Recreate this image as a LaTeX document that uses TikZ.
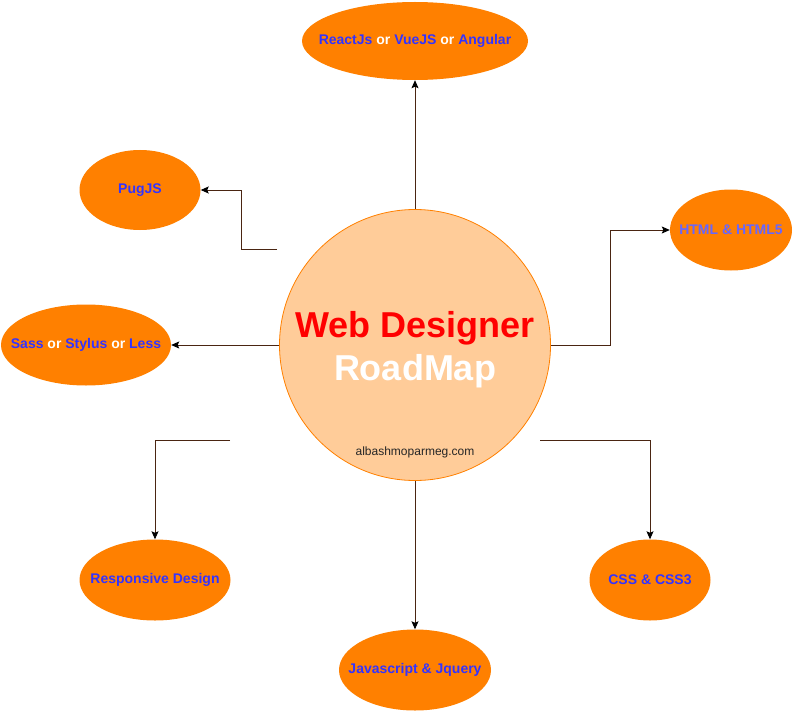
\documentclass[tikz,border=0pt]{standalone}
\usepackage{fontspec}
\setmainfont{Liberation Sans}
\usepackage{xcolor}
\usetikzlibrary{positioning}
\usetikzlibrary{shapes.geometric}
\usetikzlibrary{arrows.meta}
\definecolor{roadorange}{HTML}{FF8000}
\definecolor{roadpeach}{HTML}{FFCC99}
\definecolor{roadblue}{HTML}{3333FF}
\definecolor{roadlightblue}{HTML}{6666FF}
\definecolor{roadline}{HTML}{4A2512}

\tikzset{
  topic/.style={ellipse, fill=roadorange, draw=none, inner sep=0pt},
  topictext/.style={font=\bfseries\fontsize{14}{16}\selectfont, text=roadblue},
  link/.style={draw=roadline, line width=0.9pt, -{Stealth[length=8pt,width=7pt,inset=1.5pt,color=black]}},
}
\newcommand{\orword}{\textcolor{white}{or}}

\begin{document}
\begin{tikzpicture}[x=1pt,y=-1pt]
\useasboundingbox (0,0) rectangle (802,722);

% centre
\node[circle, fill=roadpeach, draw=roadorange, line width=0.8pt, minimum size=271pt, inner sep=0pt] (roadmap) at (415,345) {};
\node[anchor=base, font=\bfseries\fontsize{36}{40}\selectfont, text=red] (title) at (415,337) {Web Designer};
\node[anchor=base, font=\bfseries\fontsize{36}{40}\selectfont, text=white] (subtitle) at (415,380) {RoadMap};
\node[anchor=base, font=\fontsize{12}{14}\selectfont, text=black!85] (site) at (415,455) {albashmoparmeg.com};

% topics
\node[topic, minimum width=226pt, minimum height=78pt] (frameworks) at (415,41) {};
\node[topictext] at (frameworks) {ReactJs \orword{} VueJS \orword{} Angular};
\node[topic, minimum width=121pt, minimum height=80pt] (pugjs) at (140,190) {};
\node[topictext] at (pugjs) {PugJS};
\node[topic, minimum width=122pt, minimum height=81pt] (html) at (731,230) {};
\node[topictext, text=roadlightblue] at (html) {HTML \& HTML5};
\node[topic, minimum width=170pt, minimum height=81pt] (sass) at (86,345) {};
\node[topictext] at (sass) {Sass \orword{} Stylus \orword{} Less};
\node[topic, minimum width=151pt, minimum height=81pt] (responsive) at (155,580) {};
\node[topictext] at (responsive) {Responsive Design};
\node[topic, minimum width=121pt, minimum height=81pt] (css) at (650,580) {};
\node[topictext] at (css) {CSS \& CSS3};
\node[topic, minimum width=152pt, minimum height=81pt] (javascript) at (415,670) {};
\node[topictext] at (javascript) {Javascript \& Jquery};

% loose starts
\coordinate (pugstart) at (277,249);
\coordinate (respstart) at (230,440);
\coordinate (cssstart) at (540,440);

% links
\draw[link] (roadmap.north) -- (frameworks.south);
\draw[link] (pugstart) -- ++(-36,0) |- (pugjs.east);
\draw[link] (roadmap.east) -- ++(60,0) |- (html.west);
\draw[link] (roadmap.west) -- (sass.east);
\draw[link] (respstart) -| (responsive.north);
\draw[link] (cssstart) -| (css.north);
\draw[link] (roadmap.south) -- (javascript.north);

\end{tikzpicture}
\end{document}
